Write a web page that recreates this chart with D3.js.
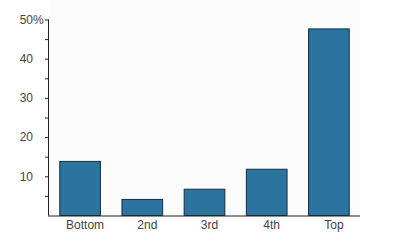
<!DOCTYPE html>
<html>
<head>
<meta charset="utf-8">
<script src="https://cdn.jsdelivr.net/npm/d3@7"></script>
<style>
  body { margin: 0; background: #fff; }
  text { font-family: "Liberation Sans", Arial, sans-serif; }
</style>
</head>
<body>
<div class="svg-container"></div>
<script>
// data
var categories = ["Bottom", "2nd", "3rd", "4th", "Top"];
var values = [13.8, 4.1, 6.7, 11.8, 47.6];
var yTickValues = [10, 20, 30, 40, 50];
var yMinorTicks = [5, 15, 25, 35, 45];

var svg1 = d3.select("body").select(".svg-container").append("svg")
    .attr("width", 408)
    .attr("height", 246);

// note: "top" is taken by window.top, so plot edges get their own names
var plotLeft = 49, plotRight = 360, plotTop = 19.5, plotBottom = 215.5;

var x = d3.scaleBand()
    .domain(categories)
    .range([plotLeft, plotRight])
    .paddingInner(0.33)
    .paddingOuter(0.165);

var y = d3.scaleLinear()
    .domain([0, 50])
    .range([plotBottom, plotTop]);

// faint plot background
svg1.append("rect")
    .attr("x", plotLeft)
    .attr("y", 0)
    .attr("width", plotRight - plotLeft)
    .attr("height", plotBottom)
    .attr("fill", "#fcfcfc");

// bars
svg1.selectAll("rect.bar").data(values)
    .enter()
    .append("rect")
    .attr("class", "bar")
    .attr("x", function(d, i) { return x(categories[i]) + 0.5; })
    .attr("y", function(d) { return y(d); })
    .attr("width", x.bandwidth() - 1)
    .attr("height", function(d) { return y(0) - y(d); })
    .attr("fill", "#2b74a0")
    .attr("stroke", "#182c3d")
    .attr("stroke-width", 1);

// y axis
var yAxis = d3.axisLeft(y)
    .tickValues(yTickValues)
    .tickSize(4)
    .tickPadding(12)
    .tickFormat(function(d) { return d === 50 ? d + "%" : d; });

var gy = svg1.append("g")
    .attr("transform", "translate(" + plotLeft + ",0)")
    .call(yAxis);
gy.select(".domain").attr("stroke", "#222").attr("d", "M-0.5," + plotTop + "V" + plotBottom);
gy.selectAll(".tick line").attr("stroke", "#222");
gy.selectAll(".tick text")
    .attr("fill", "#444")
    .attr("font-size", "12px")
    .attr("font-family", "Liberation Sans, Arial, sans-serif");

// let the "%" hang past the number column
var pct = gy.append("text").attr("font-size", "12px").text("%");
var pctW = pct.node().getComputedTextLength();
pct.remove();
gy.selectAll(".tick text").filter(function(d) { return d === 50; })
    .attr("dx", pctW);

// minor ticks
gy.selectAll(".minor").data(yMinorTicks)
    .enter()
    .append("line")
    .attr("class", "minor")
    .attr("x1", -4)
    .attr("x2", 0)
    .attr("y1", function(d) { return y(d) + 0.5; })
    .attr("y2", function(d) { return y(d) + 0.5; })
    .attr("stroke", "#222");

// x axis
var xAxis = d3.axisBottom(x)
    .tickSize(0)
    .tickPadding(5);

var gx = svg1.append("g")
    .attr("transform", "translate(0," + plotBottom + ")")
    .call(xAxis);
gx.select(".domain").attr("stroke", "#222").attr("d", "M" + (plotLeft - 1) + ",0.5H" + plotRight);
gx.selectAll(".tick text")
    .attr("fill", "#444")
    .attr("font-size", "12px")
    .attr("dx", 5)
    .attr("font-family", "Liberation Sans, Arial, sans-serif");
</script>
</body>
</html>
